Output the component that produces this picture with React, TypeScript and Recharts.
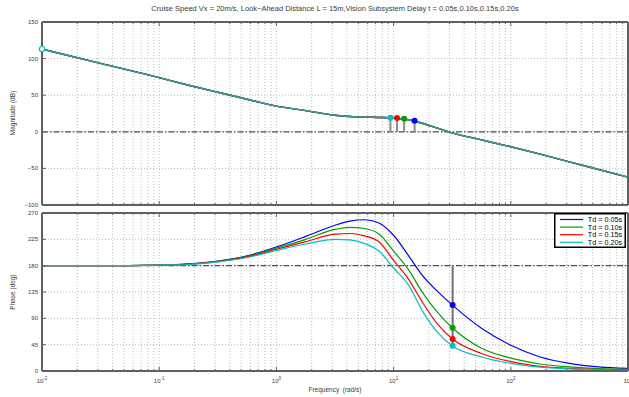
import React from "react";
import {
  CartesianGrid,
  Line,
  LineChart,
  ReferenceDot,
  ReferenceLine,
  XAxis,
  YAxis,
} from "recharts";

// frequency grid, rad/s
const freq = [
  0.01, 0.0316, 0.1, 0.178, 0.316, 0.562, 1, 1.78, 3.16, 4.22, 5.62, 7.5, 10,
  13.3, 17.8, 23.7, 31.6, 56.2, 100, 178, 316, 562, 1000,
];

// open-loop magnitude (dB), same for every delay value
const magDb = [
  113, 93.5, 74, 63.6, 54, 44.5, 35, 29, 22.7, 21, 20, 19.6, 18.8, 16.5, 11.4,
  5, -1.5, -11, -20.5, -30.5, -41, -51.5, -62,
];

// phase (deg) for each vision delay
const phaseTd005 = [
  180, 180, 181, 183, 188, 197, 212, 230, 249, 256, 258.5, 253, 232, 198, 162,
  136, 113, 73, 44, 24, 13, 7, 4.5,
];
const phaseTd010 = [
  180, 180, 181, 182.5, 187.5, 196, 210, 225, 242, 245.5, 243.5, 234, 205, 174,
  133, 100, 74, 39, 22, 12, 7, 4, 3,
];
const phaseTd015 = [
  180, 180, 181, 182.5, 187, 195, 208, 221, 234, 235, 231, 221, 189, 158, 116,
  80, 55, 30, 16, 8, 4.5, 2.5, 1.8,
];
const phaseTd020 = [
  180, 180, 181, 182, 186.5, 194, 206, 217, 225, 224, 218, 205, 176, 148, 101,
  66, 43, 24, 13, 6.5, 3.5, 2, 1.5,
];

const delayLabels = ["Td = 0.05s", "Td = 0.10s", "Td = 0.15s", "Td = 0.20s"];
const delayColors = ["#0000ff", "#00a000", "#ff0000", "#00c0c0"];
const phaseKeys = ["p005", "p010", "p015", "p020"];

// -180 crossings marked on the magnitude curve
const gmFreq = [15.1, 12.3, 10.7, 9.4];
const gmMag = [15, 17.8, 18.7, 19.1];

// gain crossover, marked on the phase curves
const pmFreq = 31.9;
const pmPhase = [112.8, 74, 54.7, 43.2];

const startFreq = 0.01;
const startMag = 113;

const decades = [0.01, 0.1, 1, 10, 100];
const majorTicks = [0.01, 0.1, 1, 10, 100, 1000];
const tickExponents = ["-2", "-1", "0", "1", "2", "3"];
const xTicks = [
  ...decades.flatMap((d) => [1, 2, 3, 4, 5, 6, 7, 8, 9].map((k) => k * d)),
  1000,
];
const magTicks = [-100, -50, 0, 50, 100, 150];
const phaseTicks = [0, 45, 90, 135, 180, 225, 270];

const TITLE =
  "Cruise Speed Vx = 20m/s, Look\u2212Ahead Distance L = 15m,Vision Subsystem Delay t = 0.05s,0.10s,0.15s,0.20s";

const FONT = "'Liberation Sans', Arial, sans-serif";
const FRAME = "#606060";
const TEXT = "#3a3a3a";
const GRID = "#bdbdbd";

const rows = freq.map((f, i) => ({
  f,
  mag: magDb[i],
  p005: phaseTd005[i],
  p010: phaseTd010[i],
  p015: phaseTd015[i],
  p020: phaseTd020[i],
}));

// inward tick marks, MATLAB style; only the bottom axis of the phase plot gets labels
const xTick = (side: "bottom" | "top", labelled: boolean) => (props: any) => {
  const { x, y, payload } = props;
  const idx = majorTicks.indexOf(payload.value);
  const len = idx >= 0 ? 4 : 2;
  const dir = side === "bottom" ? -1 : 1;
  return (
    <g>
      <line x1={x} x2={x} y1={y} y2={y + dir * len} stroke={FRAME} strokeWidth={1} />
      {labelled && idx >= 0 && (
        <text x={x} y={y + 12} textAnchor="middle" fontSize={6} fontFamily={FONT} fill={TEXT}>
          10
          <tspan dy={-3} fontSize={4.5}>
            {tickExponents[idx]}
          </tspan>
        </text>
      )}
    </g>
  );
};

const yTick = (side: "left" | "right") => (props: any) => {
  const { x, y, payload } = props;
  const dir = side === "left" ? 1 : -1;
  return (
    <g>
      <line x1={x} x2={x + dir * 4} y1={y} y2={y} stroke={FRAME} strokeWidth={1} />
      {side === "left" && (
        <text
          x={x - 4}
          y={y + 2}
          textAnchor="end"
          fontSize={6}
          fontFamily={FONT}
          fill={TEXT}
        >
          {String(payload.value).replace("-", "\u2212")}
        </text>
      )}
    </g>
  );
};

const axisLine = { stroke: FRAME, strokeWidth: 2 };

// the four axes of one box; each axis is 1px thick so the margins fix the plot area
function frameAxes(yDomain: number[], yTicks: number[], labelled: boolean) {
  const xCommon = {
    dataKey: "f",
    type: "number" as const,
    scale: "log" as const,
    domain: [0.01, 1000],
    allowDataOverflow: true,
    ticks: xTicks,
    interval: 0,
    height: 1,
    tickSize: 0,
    tickMargin: 0,
    axisLine,
  };
  const yCommon = {
    type: "number" as const,
    domain: yDomain,
    ticks: yTicks,
    interval: 0,
    width: 1,
    tickSize: 0,
    tickMargin: 0,
    axisLine,
  };
  return [
    <XAxis key="xb" {...xCommon} tick={xTick("bottom", labelled)} />,
    <XAxis key="xt" xAxisId="top" orientation="top" {...xCommon} tick={xTick("top", false)} />,
    <YAxis key="yl" {...yCommon} tick={yTick("left")} />,
    <YAxis key="yr" yAxisId="right" orientation="right" {...yCommon} tick={yTick("right")} />,
  ];
}

function MagnitudePlot() {
  return (
    <LineChart
      width={629}
      height={212}
      data={rows}
      margin={{ top: 21, right: 0, bottom: 6, left: 41 }}
    >
      <CartesianGrid stroke={GRID} strokeDasharray="1 2" />
      {frameAxes([-100, 150], magTicks, false)}
      <ReferenceLine y={0} stroke="#505050" strokeWidth={1.3} strokeDasharray="6 2 1.5 2" />
      {gmFreq.map((f, i) => (
        <ReferenceLine
          key={`stem-${i}`}
          segment={[
            { x: f, y: 0 },
            { x: f, y: gmMag[i] },
          ]}
          stroke="#8c8c8c"
          strokeWidth={2}
        />
      ))}
      {phaseKeys.map((k, i) => (
        <Line
          key={k}
          type="monotone"
          dataKey="mag"
          stroke={delayColors[i]}
          strokeWidth={1.4}
          strokeOpacity={i === 3 ? 0.85 : 1}
          dot={false}
          activeDot={false}
          isAnimationActive={false}
        />
      ))}
      <ReferenceDot
        x={startFreq}
        y={startMag}
        r={2.6}
        fill="#ffffff"
        stroke={delayColors[3]}
        strokeWidth={1.2}
      />
      {gmFreq.map((f, i) => (
        <ReferenceDot
          key={`gm-${i}`}
          x={f}
          y={gmMag[i]}
          r={3}
          fill={delayColors[i]}
          stroke="none"
        />
      ))}
    </LineChart>
  );
}

function PhasePlot() {
  return (
    <LineChart
      width={629}
      height={191}
      data={rows}
      margin={{ top: 6, right: 0, bottom: 25, left: 41 }}
    >
      <CartesianGrid stroke={GRID} strokeDasharray="1 2" />
      {frameAxes([0, 270], phaseTicks, true)}
      <ReferenceLine y={180} stroke="#505050" strokeWidth={1.3} strokeDasharray="6 2 1.5 2" />
      <ReferenceLine
        segment={[
          { x: pmFreq, y: 180 },
          { x: pmFreq, y: Math.min(...pmPhase) },
        ]}
        stroke="#707070"
        strokeWidth={2}
      />
      {phaseKeys.map((k, i) => (
        <Line
          key={k}
          type="monotone"
          dataKey={k}
          stroke={delayColors[i]}
          strokeWidth={1.2}
          dot={false}
          activeDot={false}
          isAnimationActive={false}
        />
      ))}
      {pmPhase.map((p, i) => (
        <ReferenceDot
          key={`pm-${i}`}
          x={pmFreq}
          y={p}
          r={3}
          fill={delayColors[i]}
          stroke="none"
        />
      ))}
    </LineChart>
  );
}

function Legend() {
  return (
    <svg
      width={72}
      height={35}
      style={{ position: "absolute", left: 554, top: 213 }}
    >
      <rect x={0.75} y={0.75} width={70.5} height={33.5} fill="#fff" stroke="#000" strokeWidth={1.5} />
      {delayLabels.map((label, i) => (
        <g key={label}>
          <line x1={6} x2={29} y1={6.5 + i * 7.6} y2={6.5 + i * 7.6} stroke={delayColors[i]} strokeWidth={1.2} />
          <text
            x={68}
            y={9 + i * 7.6}
            textAnchor="end"
            fontSize={7.2}
            fontFamily={FONT}
            fill="#000"
          >
            {label}
          </text>
        </g>
      ))}
    </svg>
  );
}

export default function App() {
  return (
    <div
      style={{
        position: "absolute",
        left: 0,
        top: 0,
        width: 629,
        height: 397,
        background: "#fff",
        overflow: "hidden",
      }}
    >
      <div style={{ position: "absolute", left: 0, top: 0 }}>
        <MagnitudePlot />
      </div>
      <div style={{ position: "absolute", left: 0, top: 206 }}>
        <PhasePlot />
      </div>
      <svg
        width={629}
        height={397}
        style={{ position: "absolute", left: 0, top: 0, pointerEvents: "none" }}
      >
        <text x={335} y={11} textAnchor="middle" fontSize={7.5} fontFamily={FONT} fill={TEXT}>
          {TITLE}
        </text>
        <text
          transform="translate(15,113) rotate(-90)"
          textAnchor="middle"
          fontSize={6.5}
          fontFamily={FONT}
          fill={TEXT}
        >
          Magnitude (dB)
        </text>
        <text
          transform="translate(15,292) rotate(-90)"
          textAnchor="middle"
          fontSize={6.5}
          fontFamily={FONT}
          fill={TEXT}
        >
          Phase (deg)
        </text>
        <text
          x={335}
          y={392}
          textAnchor="middle"
          fontSize={6.5}
          fontFamily={FONT}
          fill={TEXT}
          style={{ whiteSpace: "pre" }}
        >
          {"Frequency  (rad/s)"}
        </text>
      </svg>
      <Legend />
    </div>
  );
}
